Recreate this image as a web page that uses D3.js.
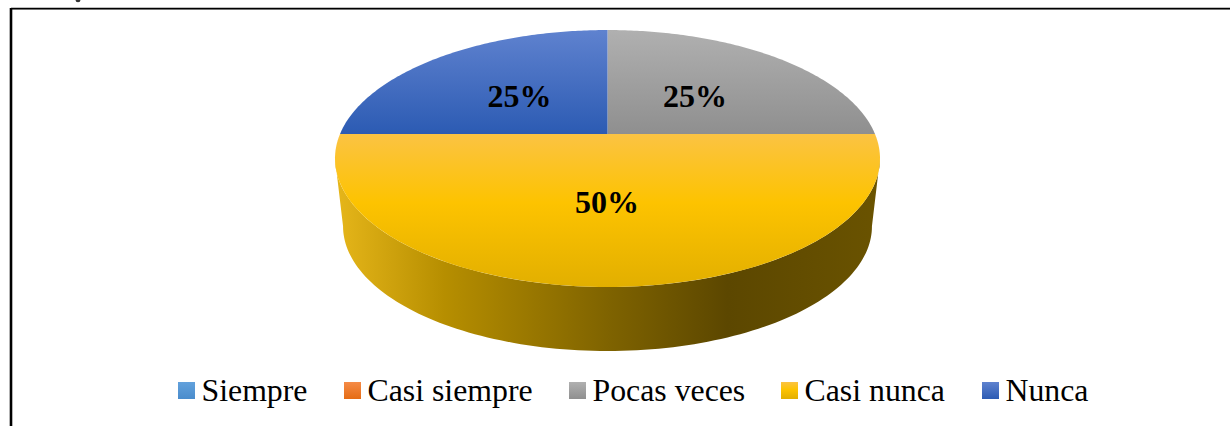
<!DOCTYPE html>
<html>
<head>
<meta charset="utf-8">
<script src="https://cdn.jsdelivr.net/npm/d3@7"></script>
<style>
  html, body { margin: 0; padding: 0; background: #fff; overflow: hidden; }
  text { font-family: "Liberation Serif", serif; fill: #000; }
</style>
</head>
<body>
<div id="chart"></div>
<script>
const categories = ['Siempre', 'Casi siempre', 'Pocas veces', 'Casi nunca', 'Nunca'];
const values = [0, 0, 25, 50, 25];
const labels = ['', '', '25%', '50%', '25%'];
const topColors = ['#62a1dc', '#f58b47', '#b0b0b0', '#fbc343', '#5f82cf'];
const bottomColors = ['#4a8ccc', '#e56c14', '#8f8f8f', '#e2af00', '#2c5bb3'];

const width = 1230, height = 426;
const cx = 607.5;

const svg = d3.select('#chart').append('svg')
    .attr('width', width)
    .attr('height', height);

const defs = svg.append('defs');

// top face is a circle seen in perspective, so the centre sits above the ellipse middle
const k = 0.1907;
const topFace = {y0: 134, w: 267.5, a: 123.8};
const bottomFace = {y0: 202.5, w: 259.6, a: 120.2};

function project(face, angle) {
    const u = Math.sin(angle), v = -Math.cos(angle);
    const d = 1 - k * v;
    return [cx + face.w * u / d, face.y0 + face.a * v / d];
}

function rim(face, a0, a1) {
    return d3.range(0, 121).map((i) => project(face, a0 + (a1 - a0) * i / 120));
}

const line = d3.line();
const slices = d3.pie().sort(null).value((d) => d)(values);

// gradients
categories.forEach((c, i) => {
    const g = defs.append('linearGradient')
        .attr('id', `grad${i}`)
        .attr('x1', 0).attr('y1', 0).attr('x2', 0).attr('y2', 1);
    g.append('stop').attr('offset', 0).attr('stop-color', topColors[i]);
    if (i === 3) g.append('stop').attr('offset', 0.45).attr('stop-color', '#fdc300');
    g.append('stop').attr('offset', 1).attr('stop-color', bottomColors[i]);
});

const sideGrad = defs.append('linearGradient')
    .attr('id', 'sideGrad')
    .attr('gradientUnits', 'userSpaceOnUse')
    .attr('x1', 336).attr('y1', 0).attr('x2', 880).attr('y2', 0);
[[0, '#e6b61a'], [0.2, '#b68e00'], [0.5, '#7f6300'], [0.72, '#5c4700'], [1, '#6a5300']]
    .forEach((s) => sideGrad.append('stop').attr('offset', s[0]).attr('stop-color', s[1]));

// frame
svg.append('line').attr('x1', 11).attr('x2', 1230).attr('y1', 9.5).attr('y2', 9.5)
    .attr('stroke', '#999').attr('stroke-width', 1);
svg.append('line').attr('x1', 11).attr('x2', 1230).attr('y1', 8.5).attr('y2', 8.5)
    .attr('stroke', '#000').attr('stroke-width', 1.4);
svg.append('line').attr('x1', 11).attr('x2', 11).attr('y1', 8).attr('y2', height)
    .attr('stroke', '#000').attr('stroke-width', 2.6);

// speck left over from the cropped caption above the frame
svg.append('ellipse')
    .attr('cx', 78).attr('cy', 0)
    .attr('rx', 2.5).attr('ry', 2.2)
    .attr('fill', '#333');

// side wall
const tangent = Math.acos(-k);
const wall = rim(topFace, tangent, 2 * Math.PI - tangent)
    .concat(rim(bottomFace, 2 * Math.PI - tangent, tangent));
svg.append('path')
    .attr('d', line(wall) + 'Z')
    .attr('fill', 'url(#sideGrad)');

// top face
svg.selectAll('.slice')
    .data(slices.filter((d) => d.value > 0))
    .join('path')
    .attr('class', 'slice')
    .attr('d', (d) => line([[cx, topFace.y0]].concat(rim(topFace, d.startAngle, d.endAngle))) + 'Z')
    .attr('fill', (d) => `url(#grad${d.index})`);

// data labels
const labelX = {2: 695, 3: 607, 4: 519.5};
const labelY = {2: 107, 3: 213, 4: 107};
svg.selectAll('.label')
    .data(slices.filter((d) => d.value > 0))
    .join('text')
    .attr('class', 'label')
    .attr('x', (d) => labelX[d.index])
    .attr('y', (d) => labelY[d.index])
    .attr('text-anchor', 'middle')
    .attr('font-size', 32)
    .attr('font-weight', 'bold')
    .text((d) => labels[d.index]);

// legend
const swatchX = [178, 344, 569, 781, 982];
const legend = svg.selectAll('.legend')
    .data(categories)
    .join('g')
    .attr('class', 'legend')
    .attr('transform', (d, i) => `translate(${swatchX[i]}, 382)`);
legend.append('rect')
    .attr('width', 17).attr('height', 17)
    .attr('fill', (d, i) => `url(#grad${i})`);
legend.append('text')
    .attr('x', 23.5).attr('y', 19)
    .attr('font-size', 31.8)
    .text((d) => d);
</script>
</body>
</html>
